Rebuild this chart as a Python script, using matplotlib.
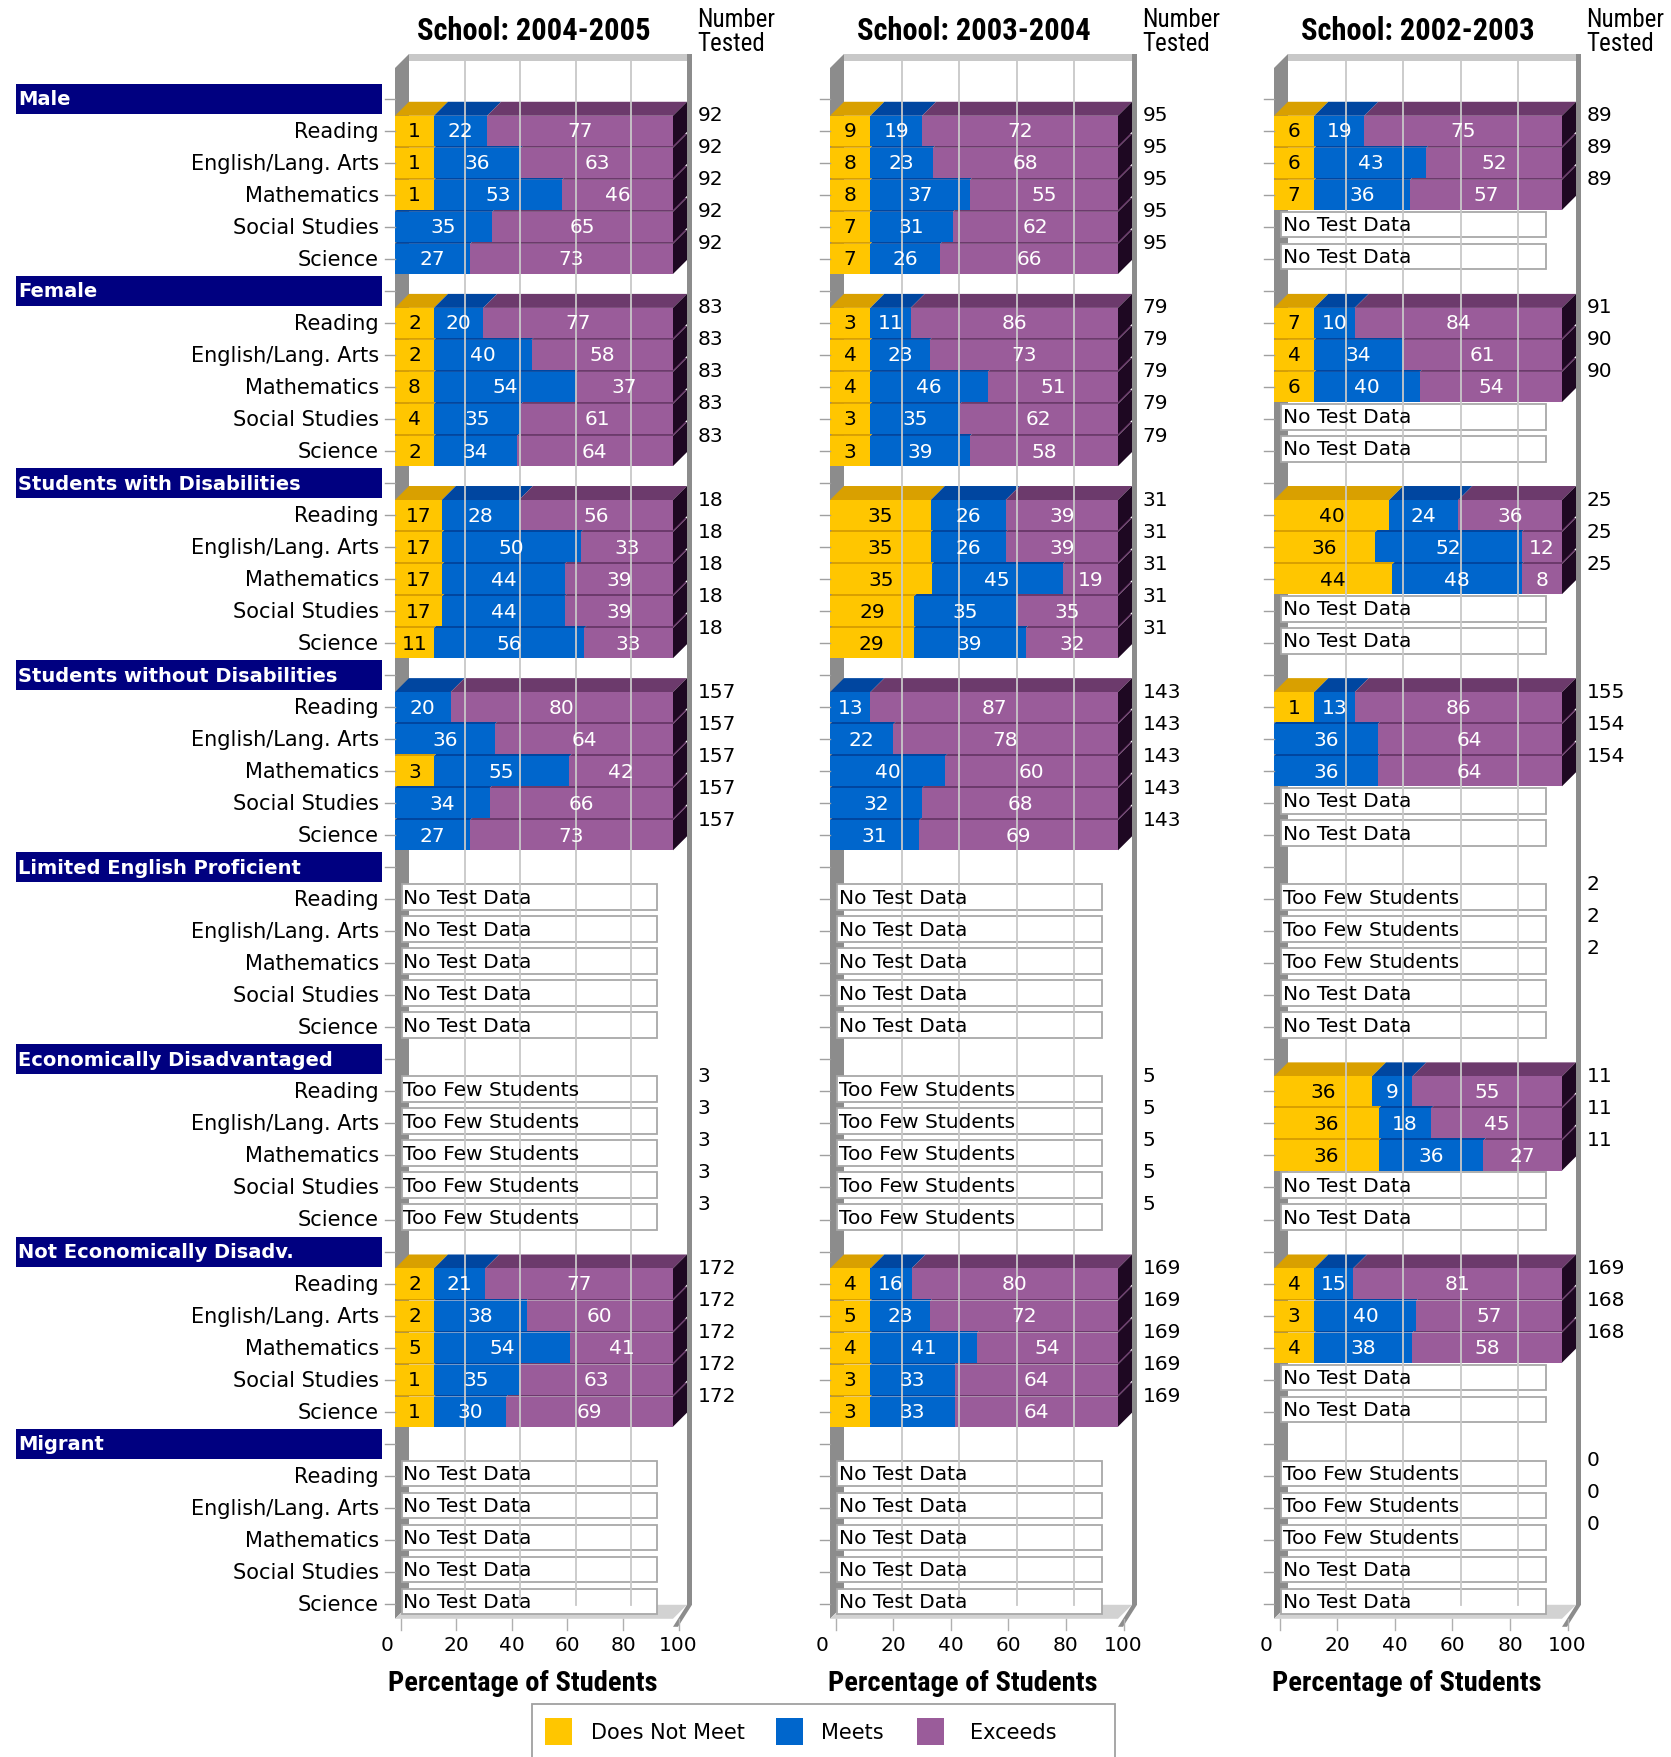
import matplotlib
matplotlib.use('Agg')
import matplotlib.pyplot as plt
from matplotlib import font_manager
from matplotlib.patches import Polygon, Rectangle

NTD = 'No Test Data'
TFS = 'Too Few Students'
N = None

groups = ['Male', 'Female', 'Students with Disabilities', 'Students without Disabilities',
          'Limited English Proficient', 'Economically Disadvantaged',
          'Not Economically Disadv.', 'Migrant']
subjects = ['Reading', 'English/Lang. Arts', 'Mathematics', 'Social Studies', 'Science']
years = ['2004-2005', '2003-2004', '2002-2003']
levels = ['Does Not Meet', 'Meets', 'Exceeds']
ticks = [0, 20, 40, 60, 80, 100]

# one inner list per group, one value per subject
dnm_0405 = [[1, 1, 1, 0, 0], [2, 2, 8, 4, 2], [17, 17, 17, 17, 11], [0, 0, 3, 0, 0],
            [N, N, N, N, N], [N, N, N, N, N], [2, 2, 5, 1, 1], [N, N, N, N, N]]
meets_0405 = [[22, 36, 53, 35, 27], [20, 40, 54, 35, 34], [28, 50, 44, 44, 56], [20, 36, 55, 34, 27],
              [N, N, N, N, N], [N, N, N, N, N], [21, 38, 54, 35, 30], [N, N, N, N, N]]
exc_0405 = [[77, 63, 46, 65, 73], [77, 58, 37, 61, 64], [56, 33, 39, 39, 33], [80, 64, 42, 66, 73],
            [N, N, N, N, N], [N, N, N, N, N], [77, 60, 41, 63, 69], [N, N, N, N, N]]
tested_0405 = [[92, 92, 92, 92, 92], [83, 83, 83, 83, 83], [18, 18, 18, 18, 18],
               [157, 157, 157, 157, 157], [N, N, N, N, N], [3, 3, 3, 3, 3],
               [172, 172, 172, 172, 172], [N, N, N, N, N]]
note_0405 = [[N] * 5, [N] * 5, [N] * 5, [N] * 5, [NTD] * 5, [TFS] * 5, [N] * 5, [NTD] * 5]

dnm_0304 = [[9, 8, 8, 7, 7], [3, 4, 4, 3, 3], [35, 35, 35, 29, 29], [0, 0, 0, 0, 0],
            [N, N, N, N, N], [N, N, N, N, N], [4, 5, 4, 3, 3], [N, N, N, N, N]]
meets_0304 = [[19, 23, 37, 31, 26], [11, 23, 46, 35, 39], [26, 26, 45, 35, 39], [13, 22, 40, 32, 31],
              [N, N, N, N, N], [N, N, N, N, N], [16, 23, 41, 33, 33], [N, N, N, N, N]]
exc_0304 = [[72, 68, 55, 62, 66], [86, 73, 51, 62, 58], [39, 39, 19, 35, 32], [87, 78, 60, 68, 69],
            [N, N, N, N, N], [N, N, N, N, N], [80, 72, 54, 64, 64], [N, N, N, N, N]]
tested_0304 = [[95, 95, 95, 95, 95], [79, 79, 79, 79, 79], [31, 31, 31, 31, 31],
               [143, 143, 143, 143, 143], [N, N, N, N, N], [5, 5, 5, 5, 5],
               [169, 169, 169, 169, 169], [N, N, N, N, N]]
note_0304 = [[N] * 5, [N] * 5, [N] * 5, [N] * 5, [NTD] * 5, [TFS] * 5, [N] * 5, [NTD] * 5]

dnm_0203 = [[6, 6, 7, N, N], [7, 4, 6, N, N], [40, 36, 44, N, N], [1, 0, 0, N, N],
            [N, N, N, N, N], [36, 36, 36, N, N], [4, 3, 4, N, N], [N, N, N, N, N]]
meets_0203 = [[19, 43, 36, N, N], [10, 34, 40, N, N], [24, 52, 48, N, N], [13, 36, 36, N, N],
              [N, N, N, N, N], [9, 18, 36, N, N], [15, 40, 38, N, N], [N, N, N, N, N]]
exc_0203 = [[75, 52, 57, N, N], [84, 61, 54, N, N], [36, 12, 8, N, N], [86, 64, 64, N, N],
            [N, N, N, N, N], [55, 45, 27, N, N], [81, 57, 58, N, N], [N, N, N, N, N]]
tested_0203 = [[89, 89, 89, N, N], [91, 90, 90, N, N], [25, 25, 25, N, N], [155, 154, 154, N, N],
               [2, 2, 2, N, N], [11, 11, 11, N, N], [169, 168, 168, N, N], [0, 0, 0, N, N]]
note_0203 = [[N, N, N, NTD, NTD], [N, N, N, NTD, NTD], [N, N, N, NTD, NTD], [N, N, N, NTD, NTD],
             [TFS, TFS, TFS, NTD, NTD], [N, N, N, NTD, NTD], [N, N, N, NTD, NTD],
             [TFS, TFS, TFS, NTD, NTD]]

panels = [(dnm_0405, meets_0405, exc_0405, tested_0405, note_0405),
          (dnm_0304, meets_0304, exc_0304, tested_0304, note_0304),
          (dnm_0203, meets_0203, exc_0203, tested_0203, note_0203)]

FRONT = ['#FFC600', '#0066CC', '#9A5C9A']
TOP = ['#D9A000', '#0046A0', '#6C3A6C']
SIDE = '#1E0822'
NAVY = '#000080'


def find_family(names):
    for name in names:
        try:
            font_manager.findfont(font_manager.FontProperties(family=name), fallback_to_default=False)
            return name
        except ValueError:
            pass
    return None


# the titles use a narrow face; shrink DejaVu if none is installed
narrow = find_family(['Liberation Sans Narrow', 'DejaVu Sans Condensed', 'Roboto Condensed'])
if narrow:
    NARROW, TITLE_FS, XLAB_FS, NT_FS = [narrow, 'DejaVu Sans'], 22, 20.5, 18
else:
    NARROW, TITLE_FS, XLAB_FS, NT_FS = ['DejaVu Sans'], 16.5, 14.5, 13

# layout in pixels
W_FIG, H_FIG = 1671, 1758
ROW0, PITCH = 99.8, 32.02
panel_x0 = [395, 830, 1274]
panel_w = [278, 288, 288]
DEPTH = 14
MIN_W = 14  # smallest drawn segment, in percent


def seg_widths(vals):
    shown = [(k, v) for k, v in enumerate(vals) if v]
    n_small = sum(1 for k, v in shown if v < MIN_W)
    big = sum(v for k, v in shown if v >= MIN_W)
    rest = 100 - MIN_W * n_small
    return [(k, v, MIN_W if v < MIN_W else v / big * rest) for k, v in shown]


fig = plt.figure(figsize=(W_FIG / 100, H_FIG / 100), dpi=100)
canvas = fig.add_axes([0, 0, 1, 1])
canvas.set_xlim(0, W_FIG)
canvas.set_ylim(H_FIG, 0)
canvas.axis('off')

n_rows = len(groups) * 6

# row labels and group headers
for g, name in enumerate(groups):
    yh = ROW0 + PITCH * (6 * g)
    canvas.add_patch(Rectangle((15.7, yh - 15), 366.7, 30, fc=NAVY, ec='none'))
    canvas.text(18, yh, name, color='white', fontsize=14, fontweight='bold', va='center', ha='left')
    for s, subj in enumerate(subjects):
        canvas.text(379, ROW0 + PITCH * (6 * g + 1 + s), subj, fontsize=15, va='center', ha='right')

for p, (dnm, meets, exc, tested, note) in enumerate(panels):
    x0, w = panel_x0[p], panel_w[p]
    sc = w / 100.0
    top_px, bot_px = 40, 1670
    left_px, right_px = x0 - 20, x0 + w + 30
    ax = fig.add_axes([left_px / W_FIG, 1 - bot_px / H_FIG,
                       (right_px - left_px) / W_FIG, (bot_px - top_px) / H_FIG])
    ax.set_xlim(-20 / sc, (w + 30) / sc)
    ax.set_ylim((bot_px - ROW0) / PITCH, (top_px - ROW0) / PITCH)
    ax.axis('off')
    ax.patch.set_alpha(0)
    dx, dy = DEPTH / sc, DEPTH / PITCH
    yb = n_rows - 1 + 0.47
    yt = (62 - ROW0) / PITCH
    band = 7 / PITCH

    # 3D box: back wall, grid, walls, floor
    ax.add_patch(Rectangle((dx, yt), 100, yb - dy - yt, fc='white', ec='none'))
    for v in ticks[1:-1]:
        ax.plot([v + dx, v + dx], [yt, yb - dy], color='#c8c8c8', lw=1.3)
    ax.add_patch(Rectangle((dx, yt - band), 100 + 5 / sc, band, fc='#c8c8c8', ec='none'))
    ax.add_patch(Polygon([(0, yt + dy - band), (dx, yt - band), (dx, yb - dy), (0, yb)],
                         fc='#8c8c8c', ec='none'))
    ax.add_patch(Polygon([(0, yb), (100, yb), (100 + dx, yb - dy), (dx, yb - dy)],
                         fc='#d2d2d2', ec='none'))
    ax.add_patch(Rectangle((100 + dx, yt - band), 5 / sc, yb - dy - yt + band, fc='#8c8c8c', ec='none'))
    ax.add_patch(Polygon([(100 + dx, yb - dy), (100 + dx + 5 / sc, yb - dy),
                          (100 + 5 / sc, yb + 0.25), (100, yb + 0.25)], fc='#8c8c8c', ec='none'))
    for i in range(n_rows):
        ax.plot([-10 / sc, 0], [i, i], color='#a0a0a0', lw=1)
    for v in ticks:
        ax.plot([v + dx * 0.4, v + dx * 0.4], [yb, yb + 0.35], color='#b0b0b0', lw=1)
        lx = v + dx * 0.4 if v else -8 / sc
        ax.text(lx, (1646 - ROW0) / PITCH, str(v), ha='center', va='center', fontsize=14.5)
    ax.text(46, (1684 - ROW0) / PITCH, 'Percentage of Students', ha='center', va='center',
            fontsize=XLAB_FS, fontweight='bold', family=NARROW)
    ax.text(50, (31 - ROW0) / PITCH, 'School: ' + years[p], ha='center', va='center',
            fontsize=TITLE_FS, fontweight='bold', family=NARROW)
    ax.text(100 + 24.6 / sc, (32 - ROW0) / PITCH, 'Number\nTested', ha='left', va='center',
            fontsize=NT_FS, family=NARROW, linespacing=1.0)

    # bars, drawn bottom-up so the top face of each bar shows only as a thin edge
    h = 0.47
    for g in reversed(range(len(groups))):
        for s in reversed(range(len(subjects))):
            i = 6 * g + 1 + s
            if tested[g][s] is not None:
                ax.text(100 + 24.6 / sc, i - 0.5, str(tested[g][s]), ha='left', va='center', fontsize=14.5)
            if note[g][s] is not None:
                ax.add_patch(Rectangle((2.4, i - 0.47), 92, 0.8, fc='white', ec='#a8a8a8', lw=1.3))
                ax.text(3.0, i - 0.07, note[g][s], ha='left', va='center', fontsize=14.5)
                continue
            vals = [dnm[g][s], meets[g][s], exc[g][s]]
            left = 0
            for k, v, wd in seg_widths(vals):
                ax.add_patch(Polygon([(left, i - h), (left + wd, i - h), (left + wd + dx, i - h - dy),
                                      (left + dx, i - h - dy)], fc=TOP[k], ec='none'))
                ax.add_patch(Rectangle((left, i - h), wd, 2 * h, fc=FRONT[k], ec='none'))
                ax.text(left + wd / 2, i, str(v), ha='center', va='center', fontsize=14.5,
                        color='black' if k == 0 else 'white')
                left += wd
            ax.add_patch(Polygon([(100, i - h), (100, i + h), (100 + dx, i + h - dy),
                                  (100 + dx, i - h - dy)], fc=SIDE, ec='none'))

# legend
canvas.add_patch(Rectangle((531.6, 1704.7), 583, 60, fc='white', ec='#a0a0a0', lw=1.3))
for k, (lx, tx) in enumerate([(545, 591), (776, 821), (917, 970)]):
    canvas.add_patch(Rectangle((lx, 1719), 27, 27, fc=FRONT[k], ec='none'))
    canvas.text(tx, 1733, levels[k], fontsize=15, va='center', ha='left')

fig.savefig('out.png', dpi=100)
